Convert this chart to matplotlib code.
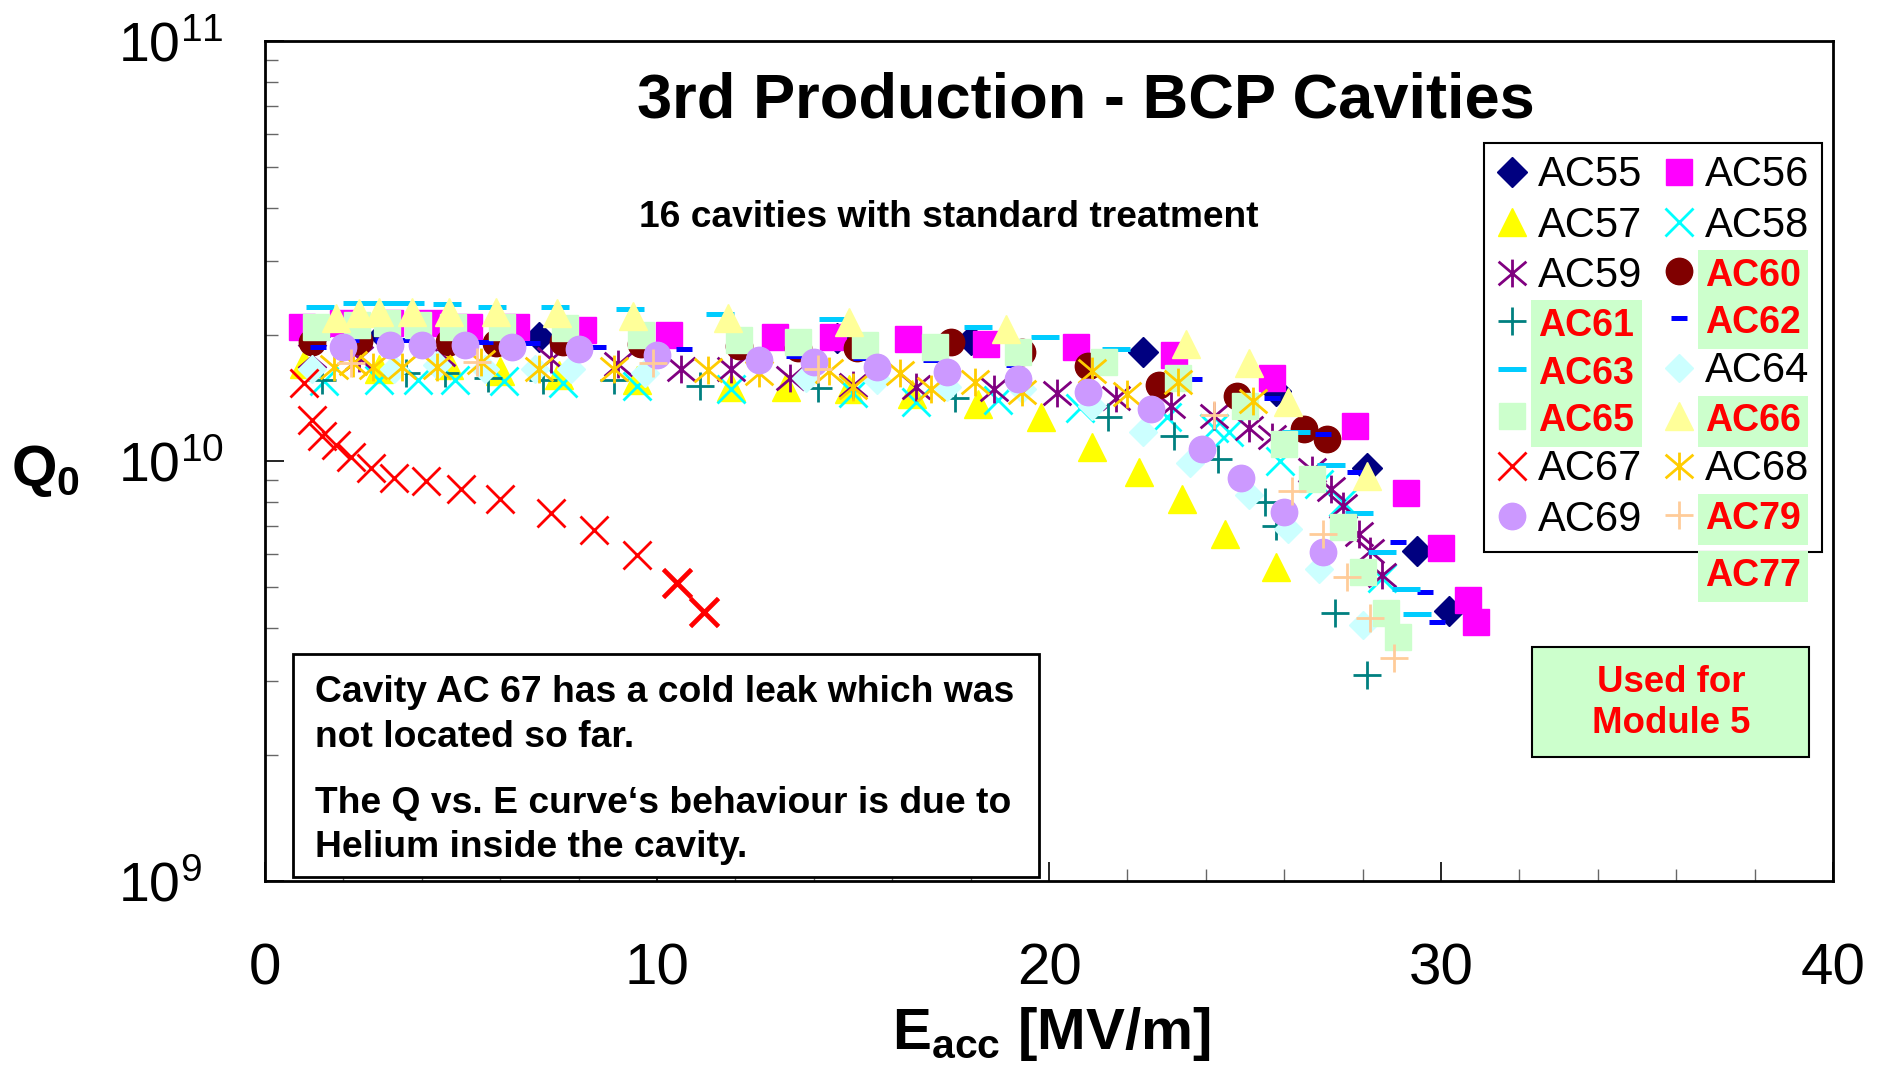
import matplotlib
matplotlib.use("Agg")
import matplotlib.pyplot as plt
from matplotlib.path import Path
from matplotlib.patches import Rectangle
from matplotlib.ticker import FixedLocator, MultipleLocator, NullFormatter

plt.rcParams["font.family"] = ["Liberation Sans", "DejaVu Sans"]
plt.rcParams["mathtext.fontset"] = "custom"
plt.rcParams["mathtext.rm"] = "Liberation Sans"
plt.rcParams["mathtext.bf"] = "Liberation Sans:bold"
plt.rcParams["mathtext.it"] = "Liberation Sans:italic"

# Q0 vs Eacc for each cavity (E in MV/m, Q in units of 1e10)
ac55_e = [1.3, 3.0, 7.0, 14.6, 18.0, 22.4, 25.8, 28.1, 29.4, 30.2]
ac55_q = [2.0, 2.0, 1.97, 1.96, 1.94, 1.82, 1.47, 0.96, 0.61, 0.44]
ac56_e = [0.95, 2.0, 3.2, 4.2, 5.2, 6.4, 8.1, 10.3, 13.0, 14.5, 16.4, 18.4, 20.7, 23.2,
          25.7, 27.8, 29.1, 30.0, 30.7, 30.9]
ac56_q = [2.08, 2.13, 2.13, 2.13, 2.08, 2.08, 2.05, 2.0, 1.97, 1.97, 1.95, 1.90, 1.87, 1.79,
          1.58, 1.21, 0.84, 0.62, 0.467, 0.414]
ac57_e = [1.0, 2.9, 4.7, 6.0, 7.5, 9.5, 11.9, 13.3, 14.9, 16.5, 18.2, 19.8, 21.1, 22.3,
          23.4, 24.5, 25.8]
ac57_q = [1.70, 1.66, 1.69, 1.64, 1.60, 1.56, 1.50, 1.50, 1.48, 1.44, 1.37, 1.27, 1.08, 0.94,
          0.81, 0.67, 0.56]
ac58_e = [1.5, 2.9, 3.9, 4.85, 6.1, 7.6, 9.5, 11.9, 15.0, 16.6, 18.7, 20.8, 23.0, 24.2,
          24.6, 25.9, 26.9, 27.5, 28.5]
ac58_q = [1.55, 1.56, 1.56, 1.56, 1.55, 1.53, 1.51, 1.48, 1.45, 1.38, 1.40, 1.34, 1.27, 1.20,
          1.17, 1.0, 0.88, 0.80, 0.526]
ac59_e = [1.2, 2.4, 4.5, 7.3, 9.0, 10.6, 11.9, 13.4, 15.0, 16.6, 18.6, 20.2, 21.7, 23.1,
          24.2, 25.1, 25.7, 26.7, 27.2, 27.5, 27.9, 28.2, 28.5]
ac59_q = [1.78, 1.76, 1.80, 1.75, 1.70, 1.66, 1.66, 1.58, 1.52, 1.50, 1.48, 1.45, 1.41, 1.35,
          1.28, 1.20, 1.14, 0.95, 0.86, 0.78, 0.67, 0.61, 0.535]
ac60_e = [1.2, 2.4, 4.7, 5.9, 7.6, 9.6, 12.1, 13.6, 15.1, 17.5, 19.3, 21.0, 22.8, 24.8,
          26.5, 27.1]
ac60_q = [1.92, 1.93, 1.92, 1.91, 1.92, 1.90, 1.88, 1.86, 1.86, 1.92, 1.82, 1.68, 1.52, 1.43,
          1.19, 1.13]
ac61_e = [1.45, 3.6, 4.6, 5.7, 7.1, 8.9, 11.1, 14.1, 17.6, 21.5, 23.2, 24.3, 25.5, 25.8,
          27.3, 28.1]
ac61_q = [1.56, 1.62, 1.62, 1.58, 1.56, 1.56, 1.51, 1.49, 1.41, 1.27, 1.15, 1.01, 0.80, 0.70,
          0.435, 0.309]
ac62_e = [1.35, 2.2, 3.0, 3.7, 5.6, 6.8, 8.5, 10.7, 13.5, 15.2, 17.0, 19.1, 23.7, 25.7,
          27.0, 27.8, 28.9, 29.6, 29.9]
ac62_q = [1.87, 1.94, 1.94, 1.94, 1.92, 1.91, 1.87, 1.85, 1.78, 1.76, 1.74, 1.69, 1.57, 1.41,
          1.16, 0.94, 0.64, 0.488, 0.414]
ac63_e = [1.4, 2.35, 3.0, 3.7, 4.65, 5.8, 7.4, 9.3, 11.6, 14.5, 18.2, 19.9, 21.7, 26.3,
          27.2, 27.9, 28.5, 29.1, 29.4]
ac63_q = [2.33, 2.38, 2.38, 2.38, 2.37, 2.33, 2.33, 2.30, 2.24, 2.18, 2.08, 1.97, 1.85, 1.17,
          0.98, 0.75, 0.607, 0.496, 0.433]
ac64_e = [1.2, 3.3, 4.4, 5.6, 6.9, 7.8, 9.7, 13.8, 15.6, 17.4, 19.3, 21.1, 22.4, 23.6,
          25.1, 26.1, 26.9, 28.0]
ac64_q = [1.66, 1.66, 1.69, 1.66, 1.66, 1.66, 1.62, 1.58, 1.56, 1.50, 1.48, 1.35, 1.17, 0.99,
          0.83, 0.69, 0.553, 0.407]
ac65_e = [1.3, 2.35, 3.1, 3.9, 4.8, 6.05, 7.65, 9.6, 12.1, 13.6, 15.3, 17.1, 19.2, 21.4,
          23.3, 25.0, 26.0, 26.7, 27.5, 28.0, 28.6, 28.9]
ac65_q = [2.08, 2.11, 2.13, 2.11, 2.08, 2.08, 2.07, 2.0, 1.94, 1.92, 1.89, 1.87, 1.82, 1.72,
          1.58, 1.35, 1.10, 0.906, 0.697, 0.544, 0.435, 0.381]
ac66_e = [1.8, 2.4, 2.9, 3.75, 4.7, 5.9, 7.45, 9.4, 11.8, 14.9, 18.9, 23.5, 25.1, 26.1, 28.1]
ac66_q = [2.19, 2.25, 2.26, 2.26, 2.26, 2.26, 2.25, 2.21, 2.19, 2.14, 2.06, 1.90, 1.71, 1.38,
          0.92]
ac67_e = [1.0, 1.2, 1.45, 1.8, 2.2, 2.7, 3.3, 4.1, 5.0, 6.0, 7.3, 8.4, 9.5, 10.5, 11.2]
ac67_q = [1.53, 1.25, 1.15, 1.09, 1.02, 0.96, 0.91, 0.895, 0.86, 0.81, 0.75, 0.685, 0.597,
          0.513, 0.437]
ac68_e = [1.75, 2.25, 2.75, 3.5, 4.4, 5.5, 7.0, 8.9, 11.3, 12.6, 14.4, 15.0, 16.2, 17.0,
          18.1, 19.3, 21.1, 22.0, 23.3, 25.2]
ac68_q = [1.67, 1.71, 1.67, 1.67, 1.67, 1.72, 1.66, 1.66, 1.65, 1.62, 1.64, 1.50, 1.62, 1.48,
          1.54, 1.46, 1.64, 1.44, 1.54, 1.39]
ac69_e = [2.0, 3.2, 4.0, 5.1, 6.3, 8.0, 10.0, 12.6, 14.0, 15.6, 17.4, 19.2, 21.0, 22.6,
          23.9, 24.9, 26.0, 27.0]
ac69_q = [1.87, 1.89, 1.89, 1.89, 1.87, 1.85, 1.79, 1.74, 1.72, 1.67, 1.63, 1.57, 1.46, 1.33,
          1.07, 0.91, 0.757, 0.607]
ac79_e = [2.2, 5.4, 9.9, 14.1, 24.2, 26.2, 27.0, 27.6, 28.2, 28.8]
ac79_q = [1.71, 1.72, 1.71, 1.66, 1.29, 0.85, 0.67, 0.53, 0.423, 0.34]

# cavities picked for the module get a highlighted legend label
module_cavities = ["AC60", "AC61", "AC62", "AC63", "AC65", "AC66", "AC79"]
extra_module_label = "AC77"

title = "3rd Production - BCP Cavities"
subtitle = "16 cavities with standard treatment"
note_lines = ["Cavity AC 67 has a cold leak which was",
              "not located so far.",
              "The Q vs. E curve\u2018s behaviour is due to",
              "Helium inside the cavity."]
module_note = "Used for\nModule 5"

# asterisk: vertical bar plus two diagonals
asterisk = Path([(-1, -0.85), (1, 0.85), (-1, 0.85), (1, -0.85), (0, -1.0), (0, 1.0)],
                [Path.MOVETO, Path.LINETO, Path.MOVETO, Path.LINETO, Path.MOVETO, Path.LINETO])

series = [
    ("AC55", ac55_e, ac55_q, dict(marker="D", ms=15, color="#000080")),
    ("AC56", ac56_e, ac56_q, dict(marker="s", ms=19, color="#FF00FF")),
    ("AC57", ac57_e, ac57_q, dict(marker="^", ms=20, color="#FFFF00")),
    ("AC58", ac58_e, ac58_q, dict(marker="x", ms=20, color="#00FFFF", mew=2)),
    ("AC59", ac59_e, ac59_q, dict(marker=asterisk, ms=20, color="#800080", mfc="none", mew=2)),
    ("AC60", ac60_e, ac60_q, dict(marker="o", ms=19, color="#800000")),
    ("AC61", ac61_e, ac61_q, dict(marker="+", ms=20, color="#008080", mew=2)),
    ("AC62", ac62_e, ac62_q, dict(marker="_", ms=11, color="#0000FF", mew=3.6)),
    ("AC63", ac63_e, ac63_q, dict(marker="_", ms=20, color="#00CCFF", mew=3.6)),
    ("AC64", ac64_e, ac64_q, dict(marker="D", ms=14, color="#CCFFFF")),
    ("AC65", ac65_e, ac65_q, dict(marker="s", ms=19, color="#CCFFCC")),
    ("AC66", ac66_e, ac66_q, dict(marker="^", ms=20, color="#FFFF99")),
    ("AC67", ac67_e, ac67_q, dict(marker="x", ms=20, color="#FF0000", mew=2)),
    ("AC68", ac68_e, ac68_q, dict(marker=asterisk, ms=20, color="#FFCC00", mfc="none", mew=2)),
    ("AC69", ac69_e, ac69_q, dict(marker="o", ms=19, color="#CC99FF")),
    ("AC79", ac79_e, ac79_q, dict(marker="+", ms=20, color="#FFCC99", mew=2)),
]

W, H = 1886, 1071


def fx(px):
    return px / W


def fy(py):
    return 1 - py / H


fig = plt.figure(figsize=(W / 100, H / 100), dpi=100)
ax = fig.add_axes([fx(265), fy(881), fx(1833) - fx(265), fy(41) - fy(881)])

handles = {}
for name, e, q, style in series:
    (line,) = ax.plot(e, [v * 1e10 for v in q], linestyle="none", label=name, **style)
    handles[name] = line

# the last two AC67 readings are drawn heavier
ax.plot(ac67_e[-2:], [v * 1e10 for v in ac67_q[-2:]], linestyle="none", marker="x", ms=20,
        color="#FF0000", mew=3.4)

ax.set_yscale("log")
ax.set_xlim(0, 40)
ax.set_ylim(1e9, 1e11)

ax.xaxis.set_major_locator(MultipleLocator(10))
ax.xaxis.set_minor_locator(MultipleLocator(2))
ax.yaxis.set_major_locator(FixedLocator([1e9, 1e10, 1e11]))
ax.yaxis.set_minor_locator(FixedLocator([m * 10 ** d for d in (9, 10) for m in range(2, 10)]))
ax.yaxis.set_minor_formatter(NullFormatter())
ax.set_yticklabels([r"$\mathregular{10^{9}}$", r"$\mathregular{10^{10}}$",
                    r"$\mathregular{10^{11}}$"])

ax.tick_params(axis="both", which="both", direction="in", top=False, right=False)
ax.tick_params(axis="both", which="major", length=14, width=1.2, color="black")
ax.tick_params(axis="both", which="minor", length=9, width=1.0, color="#666666")
ax.tick_params(axis="x", which="major", labelsize=42, pad=44)
ax.tick_params(axis="y", which="major", labelsize=40, pad=106)
for lab in ax.get_yticklabels():
    lab.set_horizontalalignment("left")
for sp in ax.spines.values():
    sp.set_linewidth(2)

fig.text(fx(46), fy(471), r"$\mathbf{Q_0}$", fontsize=42, ha="center", va="center")
fig.text(fx(1051), fy(1034), r"$\mathbf{E_{acc}}$ [MV/m]", fontsize=42, fontweight="bold",
         ha="center", va="center")

fig.text(fx(1086), fy(118), title, fontsize=45.5, fontweight="bold", ha="center",
         va="baseline")
fig.text(fx(639), fy(227), subtitle, fontsize=26.7, fontweight="bold", ha="left",
         va="baseline")

# legend filled row by row: left column odd rows, right column even rows
order = [s[0] for s in series]
col_order = order[0::2] + order[1::2]
leg = ax.legend([handles[n] for n in col_order], col_order, ncol=2, loc="upper left",
                bbox_to_anchor=(fx(1484), fy(143)), bbox_transform=fig.transFigure,
                fontsize=30, frameon=True, fancybox=False, edgecolor="black",
                framealpha=1, borderpad=0.3, labelspacing=0.25, handlelength=0.75,
                handletextpad=0.25, columnspacing=0.5, borderaxespad=0, numpoints=1)
leg.get_frame().set_linewidth(1.5)
for txt in leg.get_texts():
    if txt.get_text() in module_cavities:
        txt.set_color("#FF0000")
        txt.set_fontweight("bold")
        txt.set_fontsize(27)
        txt.set_bbox(dict(boxstyle="square,pad=0.2", facecolor="#CCFFCC", edgecolor="none"))

# notes
fig.add_artist(Rectangle((fx(293), fy(877)), fx(1039) - fx(293), fy(654) - fy(877),
                         transform=fig.transFigure, facecolor="white", edgecolor="black",
                         linewidth=2))
for line_text, base in zip(note_lines, [702, 747, 813, 857]):
    fig.text(fx(315), fy(base), line_text, fontsize=26.8, fontweight="bold", va="baseline")

fig.add_artist(Rectangle((fx(1532), fy(757)), fx(1809) - fx(1532), fy(647) - fy(757),
                         transform=fig.transFigure, facecolor="#CCFFCC", edgecolor="black",
                         linewidth=1.5))
fig.text(fx(1671), fy(703), module_note, fontsize=26.4, fontweight="bold", color="#FF0000",
         ha="center", va="center", linespacing=1.25)

# AC77 sits under the AC79 label, outside the legend frame
fig.canvas.draw()
renderer = fig.canvas.get_renderer()
ref = [t for t in leg.get_texts() if t.get_text() == "AC79"][0]
bb = ref.get_window_extent(renderer)
fig.text(bb.x0 / W, (bb.y0 - 57) / H, extra_module_label, fontsize=27, fontweight="bold",
         color="#FF0000", ha="left", va="bottom",
         bbox=dict(boxstyle="square,pad=0.2", facecolor="#CCFFCC", edgecolor="none"))

fig.savefig("out.png", dpi=100)
